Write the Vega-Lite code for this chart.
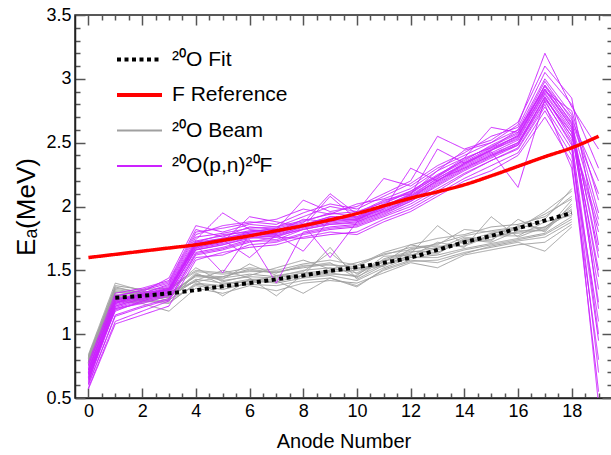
{
"$schema":"https://vega.github.io/schema/vega-lite/v6.json",
"width":537,"height":383,
"autosize":{"type":"none"},
"padding":{"left":75,"top":15,"right":0,"bottom":57},
"config":{"view":{"stroke":"#222","strokeWidth":1.5},"font":"Liberation Sans",
"axis":{"grid":false,"domainColor":"#222","domainWidth":1.5,"tickColor":"#555","tickWidth":1.5,"labelFont":"Liberation Sans","labelFontSize":18,"labelColor":"black","titleFont":"Liberation Sans","titleColor":"black","titleFontWeight":"normal","labelOverlap":false,"labelFlush":false,"labelBound":false}},
"datasets":{
"red":[{"x":0,"y":1.60},{"x":1,"y":1.625},{"x":2,"y":1.65},{"x":3,"y":1.675},{"x":4,"y":1.70},{"x":5,"y":1.735},{"x":6,"y":1.77},{"x":7,"y":1.81},{"x":8,"y":1.85},{"x":9,"y":1.895},{"x":10,"y":1.945},{"x":11,"y":2.005},{"x":12,"y":2.065},{"x":13,"y":2.115},{"x":14,"y":2.17},{"x":15,"y":2.24},{"x":16,"y":2.315},{"x":17,"y":2.39},{"x":18,"y":2.46},{"x":19,"y":2.55}],
"fit":[{"x":1,"y":1.285},{"x":2,"y":1.30},{"x":3,"y":1.32},{"x":4,"y":1.345},{"x":5,"y":1.375},{"x":6,"y":1.40},{"x":7,"y":1.43},{"x":8,"y":1.46},{"x":9,"y":1.495},{"x":10,"y":1.525},{"x":11,"y":1.56},{"x":12,"y":1.60},{"x":13,"y":1.66},{"x":14,"y":1.72},{"x":15,"y":1.77},{"x":16,"y":1.83},{"x":17,"y":1.89},{"x":18,"y":1.95}],
"gray":[
{"t":1,"x":0,"y":0.80},{"t":1,"x":1,"y":1.33},{"t":1,"x":2,"y":1.30},{"t":1,"x":3,"y":1.32},{"t":1,"x":4,"y":1.45},{"t":1,"x":5,"y":1.44},{"t":1,"x":6,"y":1.47},{"t":1,"x":7,"y":1.45},{"t":1,"x":8,"y":1.50},{"t":1,"x":9,"y":1.52},{"t":1,"x":10,"y":1.48},{"t":1,"x":11,"y":1.58},{"t":1,"x":12,"y":1.64},{"t":1,"x":13,"y":1.68},{"t":1,"x":14,"y":1.72},{"t":1,"x":15,"y":1.76},{"t":1,"x":16,"y":1.80},{"t":1,"x":17,"y":1.84},{"t":1,"x":18,"y":1.98},
{"t":2,"x":0,"y":0.78},{"t":2,"x":1,"y":1.28},{"t":2,"x":2,"y":1.26},{"t":2,"x":3,"y":1.24},{"t":2,"x":4,"y":1.40},{"t":2,"x":5,"y":1.38},{"t":2,"x":6,"y":1.42},{"t":2,"x":7,"y":1.40},{"t":2,"x":8,"y":1.44},{"t":2,"x":9,"y":1.46},{"t":2,"x":10,"y":1.42},{"t":2,"x":11,"y":1.52},{"t":2,"x":12,"y":1.60},{"t":2,"x":13,"y":1.60},{"t":2,"x":14,"y":1.66},{"t":2,"x":15,"y":1.70},{"t":2,"x":16,"y":1.74},{"t":2,"x":17,"y":1.78},{"t":2,"x":18,"y":1.90},
{"t":3,"x":0,"y":0.83},{"t":3,"x":1,"y":1.38},{"t":3,"x":2,"y":1.35},{"t":3,"x":3,"y":1.36},{"t":3,"x":4,"y":1.50},{"t":3,"x":5,"y":1.48},{"t":3,"x":6,"y":1.52},{"t":3,"x":7,"y":1.50},{"t":3,"x":8,"y":1.55},{"t":3,"x":9,"y":1.58},{"t":3,"x":10,"y":1.54},{"t":3,"x":11,"y":1.64},{"t":3,"x":12,"y":1.70},{"t":3,"x":13,"y":1.75},{"t":3,"x":14,"y":1.78},{"t":3,"x":15,"y":1.84},{"t":3,"x":16,"y":1.86},{"t":3,"x":17,"y":1.92},{"t":3,"x":18,"y":2.08},
{"t":4,"x":0,"y":0.76},{"t":4,"x":1,"y":1.26},{"t":4,"x":2,"y":1.24},{"t":4,"x":3,"y":1.18},{"t":4,"x":4,"y":1.36},{"t":4,"x":5,"y":1.32},{"t":4,"x":6,"y":1.38},{"t":4,"x":7,"y":1.34},{"t":4,"x":8,"y":1.40},{"t":4,"x":9,"y":1.42},{"t":4,"x":10,"y":1.40},{"t":4,"x":11,"y":1.48},{"t":4,"x":12,"y":1.56},{"t":4,"x":13,"y":1.52},{"t":4,"x":14,"y":1.62},{"t":4,"x":15,"y":1.66},{"t":4,"x":16,"y":1.70},{"t":4,"x":17,"y":1.72},{"t":4,"x":18,"y":1.86},
{"t":5,"x":0,"y":0.81},{"t":5,"x":1,"y":1.34},{"t":5,"x":2,"y":1.31},{"t":5,"x":3,"y":1.30},{"t":5,"x":4,"y":1.46},{"t":5,"x":5,"y":1.43},{"t":5,"x":6,"y":1.55},{"t":5,"x":7,"y":1.46},{"t":5,"x":8,"y":1.49},{"t":5,"x":9,"y":1.64},{"t":5,"x":10,"y":1.47},{"t":5,"x":11,"y":1.57},{"t":5,"x":12,"y":1.63},{"t":5,"x":13,"y":1.85},{"t":5,"x":14,"y":1.70},{"t":5,"x":15,"y":1.78},{"t":5,"x":16,"y":1.79},{"t":5,"x":17,"y":1.82},{"t":5,"x":18,"y":1.97},
{"t":6,"x":0,"y":0.79},{"t":6,"x":1,"y":1.30},{"t":6,"x":2,"y":1.28},{"t":6,"x":3,"y":1.29},{"t":6,"x":4,"y":1.42},{"t":6,"x":5,"y":1.50},{"t":6,"x":6,"y":1.44},{"t":6,"x":7,"y":1.30},{"t":6,"x":8,"y":1.47},{"t":6,"x":9,"y":1.49},{"t":6,"x":10,"y":1.50},{"t":6,"x":11,"y":1.54},{"t":6,"x":12,"y":1.62},{"t":6,"x":13,"y":1.63},{"t":6,"x":14,"y":1.75},{"t":6,"x":15,"y":1.73},{"t":6,"x":16,"y":1.90},{"t":6,"x":17,"y":1.80},{"t":6,"x":18,"y":2.02},
{"t":7,"x":0,"y":0.82},{"t":7,"x":1,"y":1.36},{"t":7,"x":2,"y":1.33},{"t":7,"x":3,"y":1.34},{"t":7,"x":4,"y":1.52},{"t":7,"x":5,"y":1.41},{"t":7,"x":6,"y":1.46},{"t":7,"x":7,"y":1.52},{"t":7,"x":8,"y":1.58},{"t":7,"x":9,"y":1.51},{"t":7,"x":10,"y":1.56},{"t":7,"x":11,"y":1.62},{"t":7,"x":12,"y":1.68},{"t":7,"x":13,"y":1.70},{"t":7,"x":14,"y":1.82},{"t":7,"x":15,"y":1.80},{"t":7,"x":16,"y":1.83},{"t":7,"x":17,"y":1.96},{"t":7,"x":18,"y":2.12},
{"t":8,"x":0,"y":0.77},{"t":8,"x":1,"y":1.27},{"t":8,"x":2,"y":1.25},{"t":8,"x":3,"y":1.27},{"t":8,"x":4,"y":1.38},{"t":8,"x":5,"y":1.35},{"t":8,"x":6,"y":1.40},{"t":8,"x":7,"y":1.42},{"t":8,"x":8,"y":1.32},{"t":8,"x":9,"y":1.44},{"t":8,"x":10,"y":1.38},{"t":8,"x":11,"y":1.50},{"t":8,"x":12,"y":1.57},{"t":8,"x":13,"y":1.58},{"t":8,"x":14,"y":1.64},{"t":8,"x":15,"y":1.68},{"t":8,"x":16,"y":1.72},{"t":8,"x":17,"y":1.65},{"t":8,"x":18,"y":1.84},
{"t":9,"x":0,"y":0.84},{"t":9,"x":1,"y":1.40},{"t":9,"x":2,"y":1.34},{"t":9,"x":3,"y":1.28},{"t":9,"x":4,"y":1.48},{"t":9,"x":5,"y":1.39},{"t":9,"x":6,"y":1.43},{"t":9,"x":7,"y":1.43},{"t":9,"x":8,"y":1.46},{"t":9,"x":9,"y":1.48},{"t":9,"x":10,"y":1.45},{"t":9,"x":11,"y":1.55},{"t":9,"x":12,"y":1.61},{"t":9,"x":13,"y":1.72},{"t":9,"x":14,"y":1.68},{"t":9,"x":15,"y":1.92},{"t":9,"x":16,"y":1.76},{"t":9,"x":17,"y":1.84},{"t":9,"x":18,"y":1.95},
{"t":10,"x":0,"y":0.78},{"t":10,"x":1,"y":1.29},{"t":10,"x":2,"y":1.27},{"t":10,"x":3,"y":1.33},{"t":10,"x":4,"y":1.41},{"t":10,"x":5,"y":1.45},{"t":10,"x":6,"y":1.50},{"t":10,"x":7,"y":1.48},{"t":10,"x":8,"y":1.53},{"t":10,"x":9,"y":1.56},{"t":10,"x":10,"y":1.44},{"t":10,"x":11,"y":1.59},{"t":10,"x":12,"y":1.65},{"t":10,"x":13,"y":1.64},{"t":10,"x":14,"y":1.74},{"t":10,"x":15,"y":1.72},{"t":10,"x":16,"y":1.81},{"t":10,"x":17,"y":1.81},{"t":10,"x":18,"y":2.05},
{"t":11,"x":0,"y":0.81},{"t":11,"x":1,"y":1.35},{"t":11,"x":2,"y":1.32},{"t":11,"x":3,"y":1.26},{"t":11,"x":4,"y":1.47},{"t":11,"x":5,"y":1.42},{"t":11,"x":6,"y":1.45},{"t":11,"x":7,"y":1.44},{"t":11,"x":8,"y":1.48},{"t":11,"x":9,"y":1.50},{"t":11,"x":10,"y":1.52},{"t":11,"x":11,"y":1.53},{"t":11,"x":12,"y":1.67},{"t":11,"x":13,"y":1.69},{"t":11,"x":14,"y":1.69},{"t":11,"x":15,"y":1.77},{"t":11,"x":16,"y":1.77},{"t":11,"x":17,"y":1.88},{"t":11,"x":18,"y":1.93},
{"t":12,"x":0,"y":0.79},{"t":12,"x":1,"y":1.31},{"t":12,"x":2,"y":1.30},{"t":12,"x":3,"y":1.30},{"t":12,"x":4,"y":1.43},{"t":12,"x":5,"y":1.40},{"t":12,"x":6,"y":1.41},{"t":12,"x":7,"y":1.46},{"t":12,"x":8,"y":1.45},{"t":12,"x":9,"y":1.47},{"t":12,"x":10,"y":1.46},{"t":12,"x":11,"y":1.61},{"t":12,"x":12,"y":1.62},{"t":12,"x":13,"y":1.67},{"t":12,"x":14,"y":1.76},{"t":12,"x":15,"y":1.74},{"t":12,"x":16,"y":1.85},{"t":12,"x":17,"y":1.83},{"t":12,"x":18,"y":2.00},
{"t":13,"x":0,"y":0.80},{"t":13,"x":1,"y":1.33},{"t":13,"x":2,"y":1.31},{"t":13,"x":3,"y":1.35},{"t":13,"x":4,"y":1.49},{"t":13,"x":5,"y":1.47},{"t":13,"x":6,"y":1.49},{"t":13,"x":7,"y":1.49},{"t":13,"x":8,"y":1.52},{"t":13,"x":9,"y":1.55},{"t":13,"x":10,"y":1.51},{"t":13,"x":11,"y":1.56},{"t":13,"x":12,"y":1.70},{"t":13,"x":13,"y":1.66},{"t":13,"x":14,"y":1.73},{"t":13,"x":15,"y":1.79},{"t":13,"x":16,"y":1.82},{"t":13,"x":17,"y":1.90},{"t":13,"x":18,"y":2.14},
{"t":14,"x":0,"y":0.77},{"t":14,"x":1,"y":1.29},{"t":14,"x":2,"y":1.27},{"t":14,"x":3,"y":1.25},{"t":14,"x":4,"y":1.39},{"t":14,"x":5,"y":1.37},{"t":14,"x":6,"y":1.39},{"t":14,"x":7,"y":1.38},{"t":14,"x":8,"y":1.42},{"t":14,"x":9,"y":1.44},{"t":14,"x":10,"y":1.37},{"t":14,"x":11,"y":1.51},{"t":14,"x":12,"y":1.58},{"t":14,"x":13,"y":1.56},{"t":14,"x":14,"y":1.63},{"t":14,"x":15,"y":1.69},{"t":14,"x":16,"y":1.73},{"t":14,"x":17,"y":1.76},{"t":14,"x":18,"y":1.88},
{"t":15,"x":0,"y":0.82},{"t":15,"x":1,"y":1.37},{"t":15,"x":2,"y":1.32},{"t":15,"x":3,"y":1.32},{"t":15,"x":4,"y":1.46},{"t":15,"x":5,"y":1.45},{"t":15,"x":6,"y":1.51},{"t":15,"x":7,"y":1.48},{"t":15,"x":8,"y":1.54},{"t":15,"x":9,"y":1.54},{"t":15,"x":10,"y":1.53},{"t":15,"x":11,"y":1.63},{"t":15,"x":12,"y":1.66},{"t":15,"x":13,"y":1.71},{"t":15,"x":14,"y":1.77},{"t":15,"x":15,"y":1.81},{"t":15,"x":16,"y":1.84},{"t":15,"x":17,"y":1.94},{"t":15,"x":18,"y":2.06},
{"t":16,"x":0,"y":0.78},{"t":16,"x":1,"y":1.30},{"t":16,"x":2,"y":1.26},{"t":16,"x":3,"y":1.29},{"t":16,"x":4,"y":1.42},{"t":16,"x":5,"y":1.30},{"t":16,"x":6,"y":1.43},{"t":16,"x":7,"y":1.41},{"t":16,"x":8,"y":1.46},{"t":16,"x":9,"y":1.68},{"t":16,"x":10,"y":1.43},{"t":16,"x":11,"y":1.54},{"t":16,"x":12,"y":1.60},{"t":16,"x":13,"y":1.62},{"t":16,"x":14,"y":1.67},{"t":16,"x":15,"y":1.71},{"t":16,"x":16,"y":1.75},{"t":16,"x":17,"y":1.79},{"t":16,"x":18,"y":1.92}
],
"mag":[
{"t":1,"x":0,"y":0.62},{"t":1,"x":1,"y":1.25},{"t":1,"x":2,"y":1.30},{"t":1,"x":3,"y":1.36},{"t":1,"x":4,"y":1.72},{"t":1,"x":5,"y":1.78},{"t":1,"x":6,"y":1.80},{"t":1,"x":7,"y":1.83},{"t":1,"x":8,"y":1.88},{"t":1,"x":9,"y":1.95},{"t":1,"x":10,"y":1.92},{"t":1,"x":11,"y":2.02},{"t":1,"x":12,"y":2.12},{"t":1,"x":13,"y":2.25},{"t":1,"x":14,"y":2.36},{"t":1,"x":15,"y":2.48},{"t":1,"x":16,"y":2.58},{"t":1,"x":17,"y":2.95},{"t":1,"x":18,"y":2.70},{"t":1,"x":19,"y":1.20},
{"t":2,"x":0,"y":0.70},{"t":2,"x":1,"y":1.18},{"t":2,"x":2,"y":1.26},{"t":2,"x":3,"y":1.32},{"t":2,"x":4,"y":1.66},{"t":2,"x":5,"y":1.70},{"t":2,"x":6,"y":1.76},{"t":2,"x":7,"y":1.74},{"t":2,"x":8,"y":1.82},{"t":2,"x":9,"y":1.86},{"t":2,"x":10,"y":1.88},{"t":2,"x":11,"y":1.96},{"t":2,"x":12,"y":2.05},{"t":2,"x":13,"y":2.18},{"t":2,"x":14,"y":2.30},{"t":2,"x":15,"y":2.40},{"t":2,"x":16,"y":2.50},{"t":2,"x":17,"y":2.85},{"t":2,"x":18,"y":2.55},{"t":2,"x":19,"y":1.85},
{"t":3,"x":0,"y":0.75},{"t":3,"x":1,"y":1.30},{"t":3,"x":2,"y":1.34},{"t":3,"x":3,"y":1.40},{"t":3,"x":4,"y":1.78},{"t":3,"x":5,"y":1.85},{"t":3,"x":6,"y":1.88},{"t":3,"x":7,"y":1.86},{"t":3,"x":8,"y":1.95},{"t":3,"x":9,"y":2.02},{"t":3,"x":10,"y":1.98},{"t":3,"x":11,"y":2.08},{"t":3,"x":12,"y":2.18},{"t":3,"x":13,"y":2.32},{"t":3,"x":14,"y":2.42},{"t":3,"x":15,"y":2.55},{"t":3,"x":16,"y":2.62},{"t":3,"x":17,"y":3.05},{"t":3,"x":18,"y":2.80},{"t":3,"x":19,"y":2.30},
{"t":4,"x":0,"y":0.58},{"t":4,"x":1,"y":1.10},{"t":4,"x":2,"y":1.18},{"t":4,"x":3,"y":1.26},{"t":4,"x":4,"y":1.60},{"t":4,"x":5,"y":1.62},{"t":4,"x":6,"y":1.70},{"t":4,"x":7,"y":1.72},{"t":4,"x":8,"y":1.78},{"t":4,"x":9,"y":1.82},{"t":4,"x":10,"y":1.84},{"t":4,"x":11,"y":1.92},{"t":4,"x":12,"y":2.00},{"t":4,"x":13,"y":2.12},{"t":4,"x":14,"y":2.25},{"t":4,"x":15,"y":2.36},{"t":4,"x":16,"y":2.45},{"t":4,"x":17,"y":2.78},{"t":4,"x":18,"y":2.45},{"t":4,"x":19,"y":0.95},
{"t":5,"x":0,"y":0.66},{"t":5,"x":1,"y":1.24},{"t":5,"x":2,"y":1.32},{"t":5,"x":3,"y":1.38},{"t":5,"x":4,"y":1.74},{"t":5,"x":5,"y":1.95},{"t":5,"x":6,"y":1.82},{"t":5,"x":7,"y":1.80},{"t":5,"x":8,"y":1.90},{"t":5,"x":9,"y":1.88},{"t":5,"x":10,"y":1.95},{"t":5,"x":11,"y":2.05},{"t":5,"x":12,"y":2.10},{"t":5,"x":13,"y":2.28},{"t":5,"x":14,"y":2.38},{"t":5,"x":15,"y":2.46},{"t":5,"x":16,"y":2.60},{"t":5,"x":17,"y":2.92},{"t":5,"x":18,"y":2.62},{"t":5,"x":19,"y":1.45},
{"t":6,"x":0,"y":0.72},{"t":6,"x":1,"y":1.28},{"t":6,"x":2,"y":1.30},{"t":6,"x":3,"y":1.35},{"t":6,"x":4,"y":1.68},{"t":6,"x":5,"y":1.72},{"t":6,"x":6,"y":1.92},{"t":6,"x":7,"y":1.88},{"t":6,"x":8,"y":1.84},{"t":6,"x":9,"y":2.08},{"t":6,"x":10,"y":1.90},{"t":6,"x":11,"y":2.00},{"t":6,"x":12,"y":2.08},{"t":6,"x":13,"y":2.20},{"t":6,"x":14,"y":2.34},{"t":6,"x":15,"y":2.44},{"t":6,"x":16,"y":2.56},{"t":6,"x":17,"y":2.90},{"t":6,"x":18,"y":2.75},{"t":6,"x":19,"y":2.05},
{"t":7,"x":0,"y":0.64},{"t":7,"x":1,"y":1.20},{"t":7,"x":2,"y":1.24},{"t":7,"x":3,"y":1.30},{"t":7,"x":4,"y":1.64},{"t":7,"x":5,"y":1.68},{"t":7,"x":6,"y":1.74},{"t":7,"x":7,"y":1.40},{"t":7,"x":8,"y":1.80},{"t":7,"x":9,"y":1.84},{"t":7,"x":10,"y":1.86},{"t":7,"x":11,"y":1.94},{"t":7,"x":12,"y":2.04},{"t":7,"x":13,"y":2.16},{"t":7,"x":14,"y":2.28},{"t":7,"x":15,"y":2.38},{"t":7,"x":16,"y":2.48},{"t":7,"x":17,"y":2.82},{"t":7,"x":18,"y":2.50},{"t":7,"x":19,"y":0.70},
{"t":8,"x":0,"y":0.78},{"t":8,"x":1,"y":1.32},{"t":8,"x":2,"y":1.36},{"t":8,"x":3,"y":1.42},{"t":8,"x":4,"y":1.82},{"t":8,"x":5,"y":1.76},{"t":8,"x":6,"y":1.84},{"t":8,"x":7,"y":1.82},{"t":8,"x":8,"y":2.05},{"t":8,"x":9,"y":1.96},{"t":8,"x":10,"y":2.00},{"t":8,"x":11,"y":2.10},{"t":8,"x":12,"y":2.20},{"t":8,"x":13,"y":2.55},{"t":8,"x":14,"y":2.45},{"t":8,"x":15,"y":2.52},{"t":8,"x":16,"y":2.66},{"t":8,"x":17,"y":3.10},{"t":8,"x":18,"y":2.85},{"t":8,"x":19,"y":1.70},
{"t":9,"x":0,"y":0.60},{"t":9,"x":1,"y":1.15},{"t":9,"x":2,"y":1.22},{"t":9,"x":3,"y":1.28},{"t":9,"x":4,"y":1.62},{"t":9,"x":5,"y":1.66},{"t":9,"x":6,"y":1.72},{"t":9,"x":7,"y":1.76},{"t":9,"x":8,"y":1.75},{"t":9,"x":9,"y":1.78},{"t":9,"x":10,"y":1.80},{"t":9,"x":11,"y":1.90},{"t":9,"x":12,"y":1.98},{"t":9,"x":13,"y":2.10},{"t":9,"x":14,"y":2.22},{"t":9,"x":15,"y":2.32},{"t":9,"x":16,"y":2.42},{"t":9,"x":17,"y":2.75},{"t":9,"x":18,"y":2.40},{"t":9,"x":19,"y":1.10},
{"t":10,"x":0,"y":0.69},{"t":10,"x":1,"y":1.23},{"t":10,"x":2,"y":1.29},{"t":10,"x":3,"y":1.34},{"t":10,"x":4,"y":1.70},{"t":10,"x":5,"y":1.48},{"t":10,"x":6,"y":1.78},{"t":10,"x":7,"y":1.79},{"t":10,"x":8,"y":1.86},{"t":10,"x":9,"y":1.92},{"t":10,"x":10,"y":1.92},{"t":10,"x":11,"y":2.00},{"t":10,"x":12,"y":2.10},{"t":10,"x":13,"y":2.24},{"t":10,"x":14,"y":2.35},{"t":10,"x":15,"y":2.46},{"t":10,"x":16,"y":2.55},{"t":10,"x":17,"y":2.95},{"t":10,"x":18,"y":2.65},{"t":10,"x":19,"y":1.60},
{"t":11,"x":0,"y":0.73},{"t":11,"x":1,"y":1.26},{"t":11,"x":2,"y":1.33},{"t":11,"x":3,"y":1.44},{"t":11,"x":4,"y":1.85},{"t":11,"x":5,"y":1.80},{"t":11,"x":6,"y":1.86},{"t":11,"x":7,"y":1.84},{"t":11,"x":8,"y":1.92},{"t":11,"x":9,"y":2.00},{"t":11,"x":10,"y":1.96},{"t":11,"x":11,"y":2.22},{"t":11,"x":12,"y":2.16},{"t":11,"x":13,"y":2.30},{"t":11,"x":14,"y":2.40},{"t":11,"x":15,"y":2.50},{"t":11,"x":16,"y":2.60},{"t":11,"x":17,"y":3.00},{"t":11,"x":18,"y":2.72},{"t":11,"x":19,"y":1.95},
{"t":12,"x":0,"y":0.57},{"t":12,"x":1,"y":1.08},{"t":12,"x":2,"y":1.15},{"t":12,"x":3,"y":1.22},{"t":12,"x":4,"y":1.58},{"t":12,"x":5,"y":1.64},{"t":12,"x":6,"y":1.68},{"t":12,"x":7,"y":1.70},{"t":12,"x":8,"y":1.76},{"t":12,"x":9,"y":1.80},{"t":12,"x":10,"y":1.78},{"t":12,"x":11,"y":1.88},{"t":12,"x":12,"y":1.96},{"t":12,"x":13,"y":2.08},{"t":12,"x":14,"y":2.20},{"t":12,"x":15,"y":2.28},{"t":12,"x":16,"y":2.40},{"t":12,"x":17,"y":2.70},{"t":12,"x":18,"y":2.35},{"t":12,"x":19,"y":0.55},
{"t":13,"x":0,"y":0.67},{"t":13,"x":1,"y":1.21},{"t":13,"x":2,"y":1.27},{"t":13,"x":3,"y":1.33},{"t":13,"x":4,"y":1.71},{"t":13,"x":5,"y":1.74},{"t":13,"x":6,"y":1.60},{"t":13,"x":7,"y":1.78},{"t":13,"x":8,"y":1.84},{"t":13,"x":9,"y":1.88},{"t":13,"x":10,"y":1.90},{"t":13,"x":11,"y":1.98},{"t":13,"x":12,"y":2.30},{"t":13,"x":13,"y":2.20},{"t":13,"x":14,"y":2.32},{"t":13,"x":15,"y":2.42},{"t":13,"x":16,"y":2.52},{"t":13,"x":17,"y":2.88},{"t":13,"x":18,"y":2.58},{"t":13,"x":19,"y":1.35},
{"t":14,"x":0,"y":0.71},{"t":14,"x":1,"y":1.27},{"t":14,"x":2,"y":1.31},{"t":14,"x":3,"y":1.37},{"t":14,"x":4,"y":1.73},{"t":14,"x":5,"y":1.77},{"t":14,"x":6,"y":1.81},{"t":14,"x":7,"y":1.82},{"t":14,"x":8,"y":1.87},{"t":14,"x":9,"y":2.10},{"t":14,"x":10,"y":1.94},{"t":14,"x":11,"y":2.04},{"t":14,"x":12,"y":2.12},{"t":14,"x":13,"y":2.24},{"t":14,"x":14,"y":2.38},{"t":14,"x":15,"y":2.62},{"t":14,"x":16,"y":2.58},{"t":14,"x":17,"y":2.98},{"t":14,"x":18,"y":2.68},{"t":14,"x":19,"y":2.20},
{"t":15,"x":0,"y":0.63},{"t":15,"x":1,"y":1.19},{"t":15,"x":2,"y":1.25},{"t":15,"x":3,"y":1.31},{"t":15,"x":4,"y":1.67},{"t":15,"x":5,"y":1.71},{"t":15,"x":6,"y":1.77},{"t":15,"x":7,"y":1.76},{"t":15,"x":8,"y":1.83},{"t":15,"x":9,"y":1.87},{"t":15,"x":10,"y":1.89},{"t":15,"x":11,"y":1.97},{"t":15,"x":12,"y":2.06},{"t":15,"x":13,"y":2.19},{"t":15,"x":14,"y":2.31},{"t":15,"x":15,"y":2.41},{"t":15,"x":16,"y":2.50},{"t":15,"x":17,"y":2.86},{"t":15,"x":18,"y":2.52},{"t":15,"x":19,"y":1.00},
{"t":16,"x":0,"y":0.76},{"t":16,"x":1,"y":1.29},{"t":16,"x":2,"y":1.35},{"t":16,"x":3,"y":1.41},{"t":16,"x":4,"y":1.80},{"t":16,"x":5,"y":1.83},{"t":16,"x":6,"y":1.87},{"t":16,"x":7,"y":1.90},{"t":16,"x":8,"y":1.98},{"t":16,"x":9,"y":1.94},{"t":16,"x":10,"y":2.02},{"t":16,"x":11,"y":2.06},{"t":16,"x":12,"y":2.14},{"t":16,"x":13,"y":2.28},{"t":16,"x":14,"y":2.44},{"t":16,"x":15,"y":2.50},{"t":16,"x":16,"y":2.64},{"t":16,"x":17,"y":3.20},{"t":16,"x":18,"y":2.78},{"t":16,"x":19,"y":2.45},
{"t":17,"x":0,"y":0.65},{"t":17,"x":1,"y":1.22},{"t":17,"x":2,"y":1.28},{"t":17,"x":3,"y":1.34},{"t":17,"x":4,"y":1.69},{"t":17,"x":5,"y":1.73},{"t":17,"x":6,"y":1.78},{"t":17,"x":7,"y":1.78},{"t":17,"x":8,"y":1.65},{"t":17,"x":9,"y":1.90},{"t":17,"x":10,"y":1.91},{"t":17,"x":11,"y":1.99},{"t":17,"x":12,"y":2.08},{"t":17,"x":13,"y":2.22},{"t":17,"x":14,"y":2.33},{"t":17,"x":15,"y":2.44},{"t":17,"x":16,"y":2.53},{"t":17,"x":17,"y":2.89},{"t":17,"x":18,"y":2.60},{"t":17,"x":19,"y":1.25},
{"t":18,"x":0,"y":0.69},{"t":18,"x":1,"y":1.25},{"t":18,"x":2,"y":1.30},{"t":18,"x":3,"y":1.35},{"t":18,"x":4,"y":1.72},{"t":18,"x":5,"y":1.75},{"t":18,"x":6,"y":1.80},{"t":18,"x":7,"y":1.81},{"t":18,"x":8,"y":1.86},{"t":18,"x":9,"y":1.60},{"t":18,"x":10,"y":1.88},{"t":18,"x":11,"y":1.96},{"t":18,"x":12,"y":2.06},{"t":18,"x":13,"y":2.21},{"t":18,"x":14,"y":2.30},{"t":18,"x":15,"y":2.40},{"t":18,"x":16,"y":2.48},{"t":18,"x":17,"y":2.86},{"t":18,"x":18,"y":2.55},{"t":18,"x":19,"y":1.80},
{"t":19,"x":0,"y":0.74},{"t":19,"x":1,"y":1.24},{"t":19,"x":2,"y":1.32},{"t":19,"x":3,"y":1.39},{"t":19,"x":4,"y":1.76},{"t":19,"x":5,"y":1.79},{"t":19,"x":6,"y":1.83},{"t":19,"x":7,"y":1.84},{"t":19,"x":8,"y":1.89},{"t":19,"x":9,"y":1.94},{"t":19,"x":10,"y":1.96},{"t":19,"x":11,"y":2.03},{"t":19,"x":12,"y":2.11},{"t":19,"x":13,"y":2.23},{"t":19,"x":14,"y":2.37},{"t":19,"x":15,"y":2.47},{"t":19,"x":16,"y":2.57},{"t":19,"x":17,"y":2.94},{"t":19,"x":18,"y":2.66},{"t":19,"x":19,"y":2.10},
{"t":20,"x":0,"y":0.61},{"t":20,"x":1,"y":1.14},{"t":20,"x":2,"y":1.21},{"t":20,"x":3,"y":1.27},{"t":20,"x":4,"y":1.63},{"t":20,"x":5,"y":1.67},{"t":20,"x":6,"y":1.73},{"t":20,"x":7,"y":1.73},{"t":20,"x":8,"y":1.79},{"t":20,"x":9,"y":1.83},{"t":20,"x":10,"y":1.85},{"t":20,"x":11,"y":1.93},{"t":20,"x":12,"y":2.02},{"t":20,"x":13,"y":2.14},{"t":20,"x":14,"y":2.26},{"t":20,"x":15,"y":2.36},{"t":20,"x":16,"y":2.46},{"t":20,"x":17,"y":2.80},{"t":20,"x":18,"y":2.30},{"t":20,"x":19,"y":0.80},
{"t":21,"x":0,"y":0.68},{"t":21,"x":1,"y":1.22},{"t":21,"x":2,"y":1.28},{"t":21,"x":3,"y":1.33},{"t":21,"x":4,"y":1.68},{"t":21,"x":5,"y":1.72},{"t":21,"x":6,"y":1.78},{"t":21,"x":7,"y":1.77},{"t":21,"x":8,"y":1.84},{"t":21,"x":9,"y":1.89},{"t":21,"x":10,"y":1.90},{"t":21,"x":11,"y":1.98},{"t":21,"x":12,"y":2.07},{"t":21,"x":13,"y":2.20},{"t":21,"x":14,"y":2.33},{"t":21,"x":15,"y":2.43},{"t":21,"x":16,"y":2.15},{"t":21,"x":17,"y":2.84},{"t":21,"x":18,"y":2.58},{"t":21,"x":19,"y":1.50},
{"t":22,"x":0,"y":0.72},{"t":22,"x":1,"y":1.26},{"t":22,"x":2,"y":1.31},{"t":22,"x":3,"y":1.36},{"t":22,"x":4,"y":1.71},{"t":22,"x":5,"y":1.75},{"t":22,"x":6,"y":1.79},{"t":22,"x":7,"y":1.80},{"t":22,"x":8,"y":1.85},{"t":22,"x":9,"y":1.91},{"t":22,"x":10,"y":1.89},{"t":22,"x":11,"y":2.00},{"t":22,"x":12,"y":2.09},{"t":22,"x":13,"y":2.45},{"t":22,"x":14,"y":2.34},{"t":22,"x":15,"y":2.44},{"t":22,"x":16,"y":2.54},{"t":22,"x":17,"y":2.91},{"t":22,"x":18,"y":2.62},{"t":22,"x":19,"y":1.65},
{"t":23,"x":0,"y":0.66},{"t":23,"x":1,"y":1.20},{"t":23,"x":2,"y":1.26},{"t":23,"x":3,"y":1.32},{"t":23,"x":4,"y":1.66},{"t":23,"x":5,"y":1.70},{"t":23,"x":6,"y":1.75},{"t":23,"x":7,"y":1.77},{"t":23,"x":8,"y":1.82},{"t":23,"x":9,"y":1.86},{"t":23,"x":10,"y":1.87},{"t":23,"x":11,"y":1.95},{"t":23,"x":12,"y":2.04},{"t":23,"x":13,"y":2.17},{"t":23,"x":14,"y":2.29},{"t":23,"x":15,"y":2.39},{"t":23,"x":16,"y":2.49},{"t":23,"x":17,"y":2.83},{"t":23,"x":18,"y":2.48},{"t":23,"x":19,"y":0.45},
{"t":24,"x":0,"y":0.70},{"t":24,"x":1,"y":1.24},{"t":24,"x":2,"y":1.29},{"t":24,"x":3,"y":1.35},{"t":24,"x":4,"y":1.70},{"t":24,"x":5,"y":1.74},{"t":24,"x":6,"y":1.79},{"t":24,"x":7,"y":1.79},{"t":24,"x":8,"y":1.85},{"t":24,"x":9,"y":1.92},{"t":24,"x":10,"y":1.91},{"t":24,"x":11,"y":2.01},{"t":24,"x":12,"y":2.09},{"t":24,"x":13,"y":2.22},{"t":24,"x":14,"y":2.34},{"t":24,"x":15,"y":2.45},{"t":24,"x":16,"y":2.55},{"t":24,"x":17,"y":2.92},{"t":24,"x":18,"y":2.64},{"t":24,"x":19,"y":1.90}
]},
"layer":[
{"data":{"name":"gray"},"mark":{"type":"line","clip":true,"strokeWidth":1},
"encoding":{
"x":{"field":"x","type":"quantitative","scale":{"domain":[-0.5,19.5],"nice":false,"zero":false},
"axis":{"orient":"bottom","title":"Anode Number","titleFontSize":20,"titlePadding":6,"values":[0,0.5,1,1.5,2,2.5,3,3.5,4,4.5,5,5.5,6,6.5,7,7.5,8,8.5,9,9.5,10,10.5,11,11.5,12,12.5,13,13.5,14,14.5,15,15.5,16,16.5,17,17.5,18,18.5,19,19.5],
"labelExpr":"datum.value % 2 === 0 ? format(datum.value, '~g') : ''","tickSize":{"condition":{"test":"datum.value % 2 === 0","value":-10},"value":-5},"labelPadding":14}},
"y":{"field":"y","type":"quantitative","scale":{"domain":[0.5,3.5],"nice":false,"zero":false},
"axis":{"orient":"left","title":"Eₐ(MeV)","titleFontSize":26,"titlePadding":6,"values":[0.5,0.6,0.7,0.8,0.9,1,1.1,1.2,1.3,1.4,1.5,1.6,1.7,1.8,1.9,2,2.1,2.2,2.3,2.4,2.5,2.6,2.7,2.8,2.9,3,3.1,3.2,3.3,3.4,3.5],
"labelExpr":"abs(datum.value*2 - round(datum.value*2)) < 0.001 ? format(datum.value, '~g') : ''","tickSize":{"condition":{"test":"abs(datum.value*2 - round(datum.value*2)) < 0.001","value":-10},"value":-5},"labelPadding":14}},
"detail":{"field":"t"},
"color":{"datum":"²⁰O Beam","type":"nominal","scale":{"domain":["²⁰O Fit","F Reference","²⁰O Beam","²⁰O(p,n)²⁰F"],"range":["#000000","#ff0000","#a0a0a0","#cc22ff"]},
"legend":{"orient":"none","legendX":54,"legendY":34,"title":null,"symbolType":"stroke","symbolSize":2025,"labelFontSize":21,"labelFont":"Liberation Sans","labelColor":"black","labelOffset":22,"rowPadding":13.5,"padding":0,
"encode":{"symbols":{"update":{"strokeWidth":{"signal":"datum.value === 'F Reference' || datum.value === '²⁰O Fit' ? 4 : 2"}}}}}},
"strokeDash":{"datum":"²⁰O Beam","type":"nominal","scale":{"domain":["²⁰O Fit","F Reference","²⁰O Beam","²⁰O(p,n)²⁰F"],"range":[[4,3.5],[1,0],[1,0],[1,0]]}}
}},
{"data":{"name":"mag"},"mark":{"type":"line","clip":true,"strokeWidth":1},
"encoding":{
"x":{"field":"x","type":"quantitative","axis":{"orient":"top","title":null,"labels":false,"labelExpr":"''","domain":false,"values":[0,0.5,1,1.5,2,2.5,3,3.5,4,4.5,5,5.5,6,6.5,7,7.5,8,8.5,9,9.5,10,10.5,11,11.5,12,12.5,13,13.5,14,14.5,15,15.5,16,16.5,17,17.5,18,18.5,19,19.5],"tickSize":{"condition":{"test":"datum.value % 2 === 0","value":-10},"value":-5}}},
"y":{"field":"y","type":"quantitative","axis":{"orient":"right","title":null,"labels":false,"labelExpr":"''","domain":false,"values":[0.5,0.6,0.7,0.8,0.9,1,1.1,1.2,1.3,1.4,1.5,1.6,1.7,1.8,1.9,2,2.1,2.2,2.3,2.4,2.5,2.6,2.7,2.8,2.9,3,3.1,3.2,3.3,3.4,3.5],"tickSize":{"condition":{"test":"abs(datum.value*2 - round(datum.value*2)) < 0.001","value":-10},"value":-5}}},
"detail":{"field":"t"},
"color":{"datum":"²⁰O(p,n)²⁰F","type":"nominal"},
"strokeDash":{"datum":"²⁰O(p,n)²⁰F","type":"nominal"}
}},
{"data":{"name":"red"},"mark":{"type":"line","clip":true,"interpolate":"monotone","strokeWidth":3.5},
"encoding":{
"x":{"field":"x","type":"quantitative","axis":null},
"y":{"field":"y","type":"quantitative","axis":null},
"color":{"datum":"F Reference","type":"nominal"},
"strokeDash":{"datum":"F Reference","type":"nominal"}
}},
{"data":{"name":"fit"},"mark":{"type":"line","clip":true,"interpolate":"monotone","strokeWidth":4},
"encoding":{
"x":{"field":"x","type":"quantitative","axis":null},
"y":{"field":"y","type":"quantitative","axis":null},
"color":{"datum":"²⁰O Fit","type":"nominal"},
"strokeDash":{"datum":"²⁰O Fit","type":"nominal"}
}}
],
"resolve":{"axis":{"x":"independent","y":"independent"}}
}
